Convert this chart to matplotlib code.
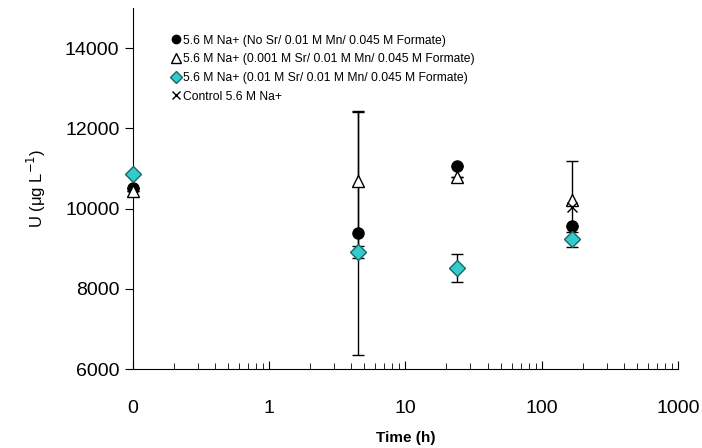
import numpy as np
import matplotlib.pyplot as plt
from matplotlib.lines import Line2D
from matplotlib.ticker import FixedLocator, LogLocator, NullFormatter

plt.rcParams['font.family'] = ['Liberation Sans', 'DejaVu Sans']

# time (h); 0 h is drawn at 0.1 on the log axis
time = [0.1, 4.5, 24, 168]

no_sr = [10510, 9390, 11060, 9560]
no_sr_err = [0, 3040, 0, 0]

sr_001 = [10450, 10685, 10785, 10210]
sr_001_err = [0, 1715, 0, 970]

sr_01 = [10860, 8915, 8520, 9240]
sr_01_err = [0, 150, 350, 190]

control_time = [168]
control = [10040]

labels = ["5.6 M Na+ (No Sr/ 0.01 M Mn/ 0.045 M Formate)",
          "5.6 M Na+ (0.001 M Sr/ 0.01 M Mn/ 0.045 M Formate)",
          "5.6 M Na+ (0.01 M Sr/ 0.01 M Mn/ 0.045 M Formate)",
          "Control 5.6 M Na+"]

cyan = '#33cccc'

fig = plt.figure(figsize=(7.02, 4.48), dpi=100)
ax = fig.add_axes([0.189, 0.176, 0.777, 0.806])

ax.errorbar(time, no_sr, yerr=no_sr_err, fmt='o', color='black', ms=8,
            ecolor='black', elinewidth=1, capsize=4, zorder=3, clip_on=False)
ax.errorbar(time, sr_001, yerr=sr_001_err, fmt='^', mfc='white', mec='black', ms=9,
            ecolor='black', elinewidth=1, capsize=4, zorder=4, clip_on=False)
ax.errorbar(time, sr_01, yerr=sr_01_err, fmt='D', mfc=cyan, mec='#1a6666', ms=8.5,
            ecolor='black', elinewidth=1, capsize=4, zorder=5, clip_on=False)
ax.plot(control_time, control, 'x', color='black', ms=7, zorder=6)

handles = [Line2D([], [], ls='none', marker='o', color='black', ms=6),
           Line2D([], [], ls='none', marker='^', mfc='white', mec='black', ms=7),
           Line2D([], [], ls='none', marker='D', mfc=cyan, mec='#1a6666', ms=6),
           Line2D([], [], ls='none', marker='x', color='black', ms=6)]

ax.set_xscale('log')
ax.set_xlim(0.1, 1000)
ax.set_ylim(6000, 15000)
ax.xaxis.set_major_locator(FixedLocator([0.1, 1, 10, 100, 1000]))
ax.set_xticklabels(['0', '1', '10', '100', '1000'])
ax.xaxis.set_minor_locator(LogLocator(base=10, subs=np.arange(2, 10)))
ax.xaxis.set_minor_formatter(NullFormatter())
ax.set_yticks([6000, 8000, 10000, 12000, 14000])

ax.tick_params(axis='x', which='major', direction='in', length=6, labelsize=14, pad=22)
ax.tick_params(axis='x', which='minor', direction='in', length=4)
ax.tick_params(axis='y', direction='out', length=6, labelsize=14)

for s in ['top', 'right']:
    ax.spines[s].set_visible(False)

ax.set_xlabel('Time (h)', fontsize=11, fontweight='bold', labelpad=10)
ax.set_ylabel('U (\u03bcg L$^{-1}$)', fontsize=12, labelpad=12)

ax.legend(handles, labels, loc='upper left', bbox_to_anchor=(0.06, 0.94),
          frameon=False, fontsize=8.7, handletextpad=0.05, handlelength=1.0,
          labelspacing=0.55, borderaxespad=0)

fig.savefig('out.png', dpi=100)
